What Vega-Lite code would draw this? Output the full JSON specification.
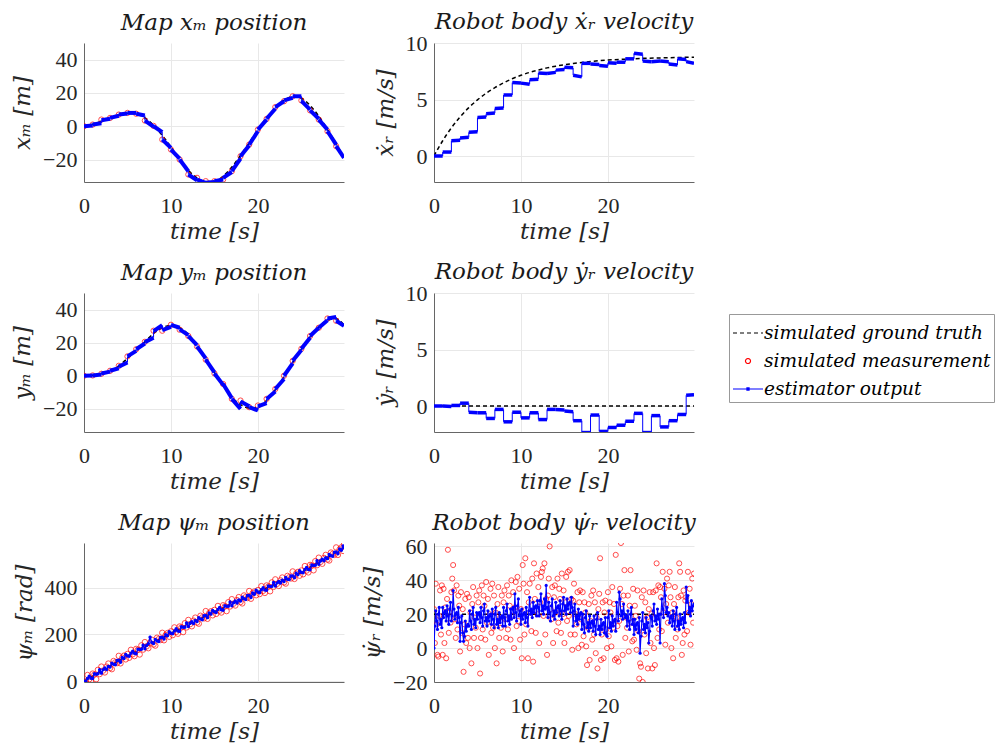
{
"$schema":"https://vega.github.io/schema/vega-lite/v6.json",
"background":"white",
"padding":{"left":11,"top":11,"right":5,"bottom":5},
"columns":2,
"spacing":{"row":111,"column":90},
"bounds":"flush",
"config":{
 "font":"DejaVu Serif",
 "view":{"stroke":null},
 "axis":{"labelFont":"Liberation Serif","labelFontSize":22,"labelColor":"#262626","titleFont":"DejaVu Serif","titleFontStyle":"italic","titleFontWeight":"normal","titleFontSize":23,"titleColor":"#262626","gridColor":"#e8e8e8","domainColor":"#666666","ticks":false,"labelFlush":false},
 "axisX":{"labelPadding":13,"titlePadding":4},
 "axisY":{"labelPadding":7,"titlePadding":8},
 "title":{"font":"DejaVu Serif","fontStyle":"italic","fontWeight":"normal","fontSize":23,"color":"#1a1a1a","offset":8}
},
"datasets":{
 "p1t":[{"t":0,"v":0},{"t":1,"v":1.2},{"t":2,"v":3},{"t":3,"v":5},{"t":4,"v":6.8},{"t":5,"v":7.8},{"t":6,"v":7.5},{"t":7,"v":5},{"t":8,"v":0.5},{"t":9,"v":-5.5},{"t":10,"v":-12.5},{"t":11,"v":-20},{"t":12,"v":-26.5},{"t":13,"v":-31},{"t":14,"v":-33.3},{"t":15,"v":-33},{"t":16,"v":-30},{"t":17,"v":-24.5},{"t":18,"v":-17.5},{"t":19,"v":-10},{"t":20,"v":-2},{"t":21,"v":5},{"t":22,"v":11},{"t":23,"v":15.5},{"t":24,"v":17.8},{"t":25,"v":16.8},{"t":26,"v":12.5},{"t":27,"v":6},{"t":28,"v":-2},{"t":29,"v":-10.5},{"t":29.9,"v":-19}],
 "p1m":[{"t":0,"v":0},{"t":1,"v":1},{"t":2,"v":4},{"t":3,"v":5},{"t":4,"v":7},{"t":5,"v":8},{"t":6,"v":7.5},{"t":7,"v":3.4},{"t":8,"v":0.2},{"t":9,"v":-8},{"t":10,"v":-14},{"t":11,"v":-20},{"t":12,"v":-29},{"t":13,"v":-31},{"t":14,"v":-33},{"t":15,"v":-33},{"t":16,"v":-32},{"t":17,"v":-27},{"t":18,"v":-18},{"t":19,"v":-11},{"t":20,"v":-2},{"t":21,"v":4.4},{"t":22,"v":11.5},{"t":23,"v":15},{"t":24,"v":18},{"t":25,"v":15.5},{"t":26,"v":9.5},{"t":27,"v":4},{"t":28,"v":-3},{"t":29,"v":-12}],
 "p1e":[{"t":0,"t1":1,"v":0,"v1":0.5,"p":0},{"t":1,"t1":2,"v":1,"v1":1.8,"p":0.5},{"t":2,"t1":3,"v":3.6,"v1":4.5,"p":1.8},{"t":3,"t1":4,"v":5,"v1":6.3,"p":4.5},{"t":4,"t1":5,"v":7,"v1":7.6,"p":6.3},{"t":5,"t1":6,"v":8,"v1":8,"p":7.6},{"t":6,"t1":7,"v":7.5,"v1":6.5,"p":8},{"t":7,"t1":8,"v":3.4,"v1":-0.3,"p":6.5},{"t":8,"t1":9,"v":0,"v1":-3.5,"p":-0.3},{"t":9,"t1":10,"v":-8,"v1":-13,"p":-3.5},{"t":10,"t1":11,"v":-14,"v1":-19.5,"p":-13},{"t":11,"t1":12,"v":-20,"v1":-27,"p":-19.5},{"t":12,"t1":13,"v":-29,"v1":-32.5,"p":-27},{"t":13,"t1":14,"v":-32,"v1":-34,"p":-32.5},{"t":14,"t1":15,"v":-34,"v1":-33.5,"p":-34},{"t":15,"t1":16,"v":-33,"v1":-32,"p":-33.5},{"t":16,"t1":17,"v":-31,"v1":-27.5,"p":-32},{"t":17,"t1":18,"v":-27,"v1":-19.5,"p":-27.5},{"t":18,"t1":19,"v":-18,"v1":-11.5,"p":-19.5},{"t":19,"t1":20,"v":-11,"v1":-3,"p":-11.5},{"t":20,"t1":21,"v":-2,"v1":4,"p":-3},{"t":21,"t1":22,"v":4.5,"v1":10.5,"p":4},{"t":22,"t1":23,"v":11.5,"v1":15,"p":10.5},{"t":23,"t1":24,"v":15.5,"v1":17,"p":15},{"t":24,"t1":25,"v":18,"v1":18,"p":17},{"t":25,"t1":26,"v":15.2,"v1":10,"p":18},{"t":26,"t1":27,"v":9.5,"v1":4.5,"p":10},{"t":27,"t1":28,"v":4,"v1":-2,"p":4.5},{"t":28,"t1":29,"v":-3,"v1":-11,"p":-2},{"t":29,"t1":29.9,"v":-12,"v1":-19,"p":-11}],
 "p2t":[{"t":0,"v":0},{"t":0.5,"v":0.7},{"t":1,"v":1.35},{"t":1.5,"v":1.95},{"t":2,"v":2.49},{"t":3,"v":3.46},{"t":4,"v":4.28},{"t":5,"v":4.97},{"t":6,"v":5.56},{"t":7,"v":6.05},{"t":8,"v":6.47},{"t":9,"v":6.84},{"t":10,"v":7.14},{"t":11,"v":7.4},{"t":12,"v":7.61},{"t":13,"v":7.8},{"t":14,"v":7.95},{"t":15,"v":8.08},{"t":16,"v":8.19},{"t":17,"v":8.28},{"t":18,"v":8.36},{"t":19,"v":8.43},{"t":20,"v":8.49},{"t":22,"v":8.57},{"t":24,"v":8.64},{"t":26,"v":8.68},{"t":28,"v":8.72},{"t":29.9,"v":8.74}],
 "p2e":[{"t":0,"t1":1,"v":0,"v1":0,"p":0},{"t":1,"t1":2,"v":0.35,"v1":0.35,"p":0},{"t":2,"t1":3,"v":1.35,"v1":1.4,"p":0.35},{"t":3,"t1":4,"v":1.6,"v1":1.65,"p":1.4},{"t":4,"t1":5,"v":2.1,"v1":2.15,"p":1.65},{"t":5,"t1":6,"v":3.4,"v1":3.45,"p":2.15},{"t":6,"t1":7,"v":3.75,"v1":3.8,"p":3.45},{"t":7,"t1":8,"v":4.2,"v1":4.25,"p":3.8},{"t":8,"t1":9,"v":5.4,"v1":5.4,"p":4.25},{"t":9,"t1":10,"v":6.5,"v1":6.45,"p":5.4},{"t":10,"t1":11,"v":6.45,"v1":6.35,"p":6.45},{"t":11,"t1":12,"v":6.75,"v1":6.8,"p":6.35},{"t":12,"t1":13,"v":7.35,"v1":7.3,"p":6.8},{"t":13,"t1":14,"v":7.3,"v1":7.4,"p":7.3},{"t":14,"t1":15,"v":7.6,"v1":7.65,"p":7.4},{"t":15,"t1":16,"v":7.85,"v1":7.8,"p":7.65},{"t":16,"t1":17,"v":7.15,"v1":7.0,"p":7.8},{"t":17,"t1":18,"v":8.2,"v1":8.2,"p":7.0},{"t":18,"t1":19,"v":8.15,"v1":8.1,"p":8.2},{"t":19,"t1":20,"v":8.0,"v1":7.95,"p":8.1},{"t":20,"t1":21,"v":8.25,"v1":8.2,"p":7.95},{"t":21,"t1":22,"v":8.3,"v1":8.3,"p":8.2},{"t":22,"t1":23,"v":8.6,"v1":8.6,"p":8.3},{"t":23,"t1":24,"v":9.1,"v1":9.0,"p":8.6},{"t":24,"t1":25,"v":8.4,"v1":8.35,"p":9.0},{"t":25,"t1":26,"v":8.35,"v1":8.4,"p":8.35},{"t":26,"t1":27,"v":8.4,"v1":8.35,"p":8.4},{"t":27,"t1":28,"v":8.15,"v1":8.05,"p":8.35},{"t":28,"t1":29,"v":8.6,"v1":8.55,"p":8.05},{"t":29,"t1":29.9,"v":8.35,"v1":8.2,"p":8.55}],
 "p3t":[{"t":0,"v":0},{"t":1,"v":0.3},{"t":2,"v":1.3},{"t":3,"v":3},{"t":4,"v":6},{"t":5,"v":10.5},{"t":6,"v":15.5},{"t":7,"v":20.5},{"t":8,"v":25.5},{"t":9,"v":29},{"t":10,"v":30.5},{"t":11,"v":29},{"t":12,"v":25},{"t":13,"v":18.5},{"t":14,"v":10.5},{"t":15,"v":2},{"t":16,"v":-6},{"t":17,"v":-13},{"t":18,"v":-17.5},{"t":19,"v":-19.5},{"t":20,"v":-19},{"t":21,"v":-15},{"t":22,"v":-8.5},{"t":23,"v":-0.5},{"t":24,"v":8},{"t":25,"v":16},{"t":26,"v":23.5},{"t":27,"v":29.5},{"t":28,"v":33.5},{"t":29,"v":34.5},{"t":29.9,"v":30.5}],
 "p3m":[{"t":0,"v":0},{"t":1,"v":0.2},{"t":2,"v":1.2},{"t":3,"v":3},{"t":4,"v":6},{"t":5,"v":11.7},{"t":6,"v":16},{"t":7,"v":20.5},{"t":8,"v":27.2},{"t":9,"v":27.2},{"t":10,"v":30.8},{"t":11,"v":27.8},{"t":12,"v":24},{"t":13,"v":17.7},{"t":14,"v":9.7},{"t":15,"v":1.4},{"t":16,"v":-5},{"t":17,"v":-14},{"t":18,"v":-15},{"t":19,"v":-19},{"t":20,"v":-18},{"t":21,"v":-14},{"t":22,"v":-8},{"t":23,"v":0},{"t":24,"v":9},{"t":25,"v":16.3},{"t":26,"v":24},{"t":27,"v":29},{"t":28,"v":34.6},{"t":29,"v":33.2}],
 "p3e":[{"t":0,"t1":1,"v":0,"v1":0.2,"p":0},{"t":1,"t1":2,"v":0.2,"v1":0.8,"p":0.2},{"t":2,"t1":3,"v":1.4,"v1":2.5,"p":0.8},{"t":3,"t1":4,"v":3,"v1":4.5,"p":2.5},{"t":4,"t1":5,"v":5.5,"v1":8,"p":4.5},{"t":5,"t1":6,"v":11.7,"v1":15,"p":8},{"t":6,"t1":7,"v":16,"v1":19.5,"p":15},{"t":7,"t1":8,"v":20.3,"v1":23,"p":19.5},{"t":8,"t1":9,"v":27,"v1":30.5,"p":23},{"t":9,"t1":10,"v":27.5,"v1":29.5,"p":30.5},{"t":10,"t1":11,"v":30.8,"v1":29,"p":29.5},{"t":11,"t1":12,"v":28,"v1":24.5,"p":29},{"t":12,"t1":13,"v":24,"v1":18.5,"p":24.5},{"t":13,"t1":14,"v":17.7,"v1":10.5,"p":18.5},{"t":14,"t1":15,"v":9.7,"v1":2,"p":10.5},{"t":15,"t1":16,"v":1.4,"v1":-5.5,"p":2},{"t":16,"t1":17,"v":-5,"v1":-13.5,"p":-5.5},{"t":17,"t1":18,"v":-14,"v1":-20,"p":-13.5},{"t":18,"t1":19,"v":-15.5,"v1":-18.5,"p":-20},{"t":19,"t1":20,"v":-19,"v1":-21,"p":-18.5},{"t":20,"t1":21,"v":-18.5,"v1":-16.5,"p":-21},{"t":21,"t1":22,"v":-14,"v1":-9.5,"p":-16.5},{"t":22,"t1":23,"v":-8,"v1":-2,"p":-9.5},{"t":23,"t1":24,"v":0,"v1":7.5,"p":-2},{"t":24,"t1":25,"v":9,"v1":15.5,"p":7.5},{"t":25,"t1":26,"v":16.3,"v1":23,"p":15.5},{"t":26,"t1":27,"v":24,"v1":29,"p":23},{"t":27,"t1":28,"v":29,"v1":33.5,"p":29},{"t":28,"t1":29,"v":34.6,"v1":35.5,"p":33.5},{"t":29,"t1":29.9,"v":33.2,"v1":30.2,"p":35.5}],
 "p4t":[{"t":0,"v":0},{"t":29.9,"v":0}],
 "p4e":[{"t":0,"t1":1,"v":0,"v1":0,"p":0},{"t":1,"t1":2,"v":0,"v1":-0.05,"p":0},{"t":2,"t1":3,"v":0.05,"v1":0.05,"p":-0.05},{"t":3,"t1":4,"v":0.25,"v1":0.25,"p":0.05},{"t":4,"t1":5,"v":-0.55,"v1":-0.6,"p":0.25},{"t":5,"t1":6,"v":-0.6,"v1":-0.6,"p":-0.6},{"t":6,"t1":7,"v":-1.1,"v1":-1.1,"p":-0.6},{"t":7,"t1":8,"v":-0.3,"v1":-0.3,"p":-1.1},{"t":8,"t1":9,"v":-1.4,"v1":-1.4,"p":-0.3},{"t":9,"t1":10,"v":-0.55,"v1":-0.55,"p":-1.4},{"t":10,"t1":11,"v":-1.05,"v1":-1.05,"p":-0.55},{"t":11,"t1":12,"v":-0.6,"v1":-0.6,"p":-1.05},{"t":12,"t1":13,"v":-1.2,"v1":-1.2,"p":-0.6},{"t":13,"t1":14,"v":-0.3,"v1":-0.3,"p":-1.2},{"t":14,"t1":15,"v":-0.3,"v1":-0.35,"p":-0.3},{"t":15,"t1":16,"v":-0.45,"v1":-0.5,"p":-0.35},{"t":16,"t1":17,"v":-1.3,"v1":-1.3,"p":-0.5},{"t":17,"t1":18,"v":-2.35,"v1":-2.35,"p":-1.3},{"t":18,"t1":19,"v":-0.8,"v1":-0.8,"p":-2.35},{"t":19,"t1":20,"v":-2.25,"v1":-2.25,"p":-0.8},{"t":20,"t1":21,"v":-1.9,"v1":-1.9,"p":-2.25},{"t":21,"t1":22,"v":-1.7,"v1":-1.7,"p":-1.9},{"t":22,"t1":23,"v":-1.35,"v1":-1.35,"p":-1.7},{"t":23,"t1":24,"v":-0.65,"v1":-0.65,"p":-1.35},{"t":24,"t1":25,"v":-2.35,"v1":-2.35,"p":-0.65},{"t":25,"t1":26,"v":-0.85,"v1":-0.85,"p":-2.35},{"t":26,"t1":27,"v":-1.85,"v1":-1.85,"p":-0.85},{"t":27,"t1":28,"v":-1.3,"v1":-1.3,"p":-1.85},{"t":28,"t1":29,"v":-0.75,"v1":-0.75,"p":-1.3},{"t":29,"t1":29.9,"v":0.95,"v1":1.0,"p":-0.75}],
 "p5t":[{"t":0,"v":0},{"t":2,"v":42},{"t":4,"v":87},{"t":5,"v":108},{"t":10,"v":205},{"t":15,"v":297},{"t":20,"v":382},{"t":25,"v":466},{"t":29.9,"v":571}],
 "p5":[{"t":0,"m":0,"e":0},{"t":0.2,"m":-7,"e":-2},{"t":0.4,"m":26,"e":11},{"t":0.6,"m":8,"e":21},{"t":0.8,"m":0,"e":12},{"t":1,"m":32,"e":11},{"t":1.2,"m":28,"e":31},{"t":1.4,"m":8,"e":29},{"t":1.6,"m":48,"e":31},{"t":1.8,"m":30,"e":49},{"t":2,"m":62,"e":34},{"t":2.2,"m":45,"e":49},{"t":2.4,"m":37,"e":56},{"t":2.6,"m":62,"e":50},{"t":2.8,"m":75,"e":63},{"t":3,"m":56,"e":60},{"t":3.2,"m":51,"e":77},{"t":3.4,"m":86,"e":72},{"t":3.6,"m":80,"e":70},{"t":3.8,"m":77,"e":88},{"t":4,"m":108,"e":89},{"t":4.2,"m":76,"e":81},{"t":4.4,"m":100,"e":101},{"t":4.6,"m":109,"e":97},{"t":4.8,"m":93,"e":114},{"t":5,"m":116,"e":108},{"t":5.2,"m":100,"e":106},{"t":5.4,"m":134,"e":119},{"t":5.6,"m":115,"e":128},{"t":5.8,"m":107,"e":119},{"t":6,"m":138,"e":117},{"t":6.2,"m":134,"e":137},{"t":6.4,"m":114,"e":135},{"t":6.6,"m":153,"e":136},{"t":6.8,"m":135,"e":154},{"t":7,"m":167,"e":139},{"t":7.2,"m":149,"e":153},{"t":7.4,"m":141,"e":160},{"t":7.6,"m":164,"e":188},{"t":7.8,"m":177,"e":165},{"t":8,"m":157,"e":161},{"t":8.2,"m":152,"e":178},{"t":8.4,"m":186,"e":172},{"t":8.6,"m":180,"e":170},{"t":8.8,"m":176,"e":187},{"t":9,"m":207,"e":188},{"t":9.2,"m":175,"e":180},{"t":9.4,"m":198,"e":199},{"t":9.6,"m":206,"e":194},{"t":9.8,"m":190,"e":211},{"t":10,"m":213,"e":205},{"t":10.2,"m":197,"e":203},{"t":10.4,"m":230,"e":215},{"t":10.6,"m":211,"e":224},{"t":10.8,"m":203,"e":215},{"t":11,"m":234,"e":213},{"t":11.2,"m":230,"e":233},{"t":11.4,"m":210,"e":231},{"t":11.6,"m":248,"e":231},{"t":11.8,"m":230,"e":249},{"t":12,"m":262,"e":234},{"t":12.2,"m":244,"e":248},{"t":12.4,"m":235,"e":254},{"t":12.6,"m":259,"e":247},{"t":12.8,"m":272,"e":260},{"t":13,"m":251,"e":255},{"t":13.2,"m":246,"e":272},{"t":13.4,"m":280,"e":266},{"t":13.6,"m":273,"e":263},{"t":13.8,"m":269,"e":280},{"t":14,"m":300,"e":281},{"t":14.2,"m":267,"e":272},{"t":14.4,"m":291,"e":292},{"t":14.6,"m":299,"e":287},{"t":14.8,"m":282,"e":303},{"t":15,"m":305,"e":297},{"t":15.2,"m":288,"e":294},{"t":15.4,"m":322,"e":307},{"t":15.6,"m":302,"e":315},{"t":15.8,"m":294,"e":306},{"t":16,"m":325,"e":304},{"t":16.2,"m":320,"e":323},{"t":16.4,"m":300,"e":321},{"t":16.6,"m":338,"e":321},{"t":16.8,"m":320,"e":339},{"t":17,"m":351,"e":323},{"t":17.2,"m":332,"e":336},{"t":17.4,"m":324,"e":343},{"t":17.6,"m":347,"e":335},{"t":17.8,"m":360,"e":348},{"t":18,"m":339,"e":343},{"t":18.2,"m":333,"e":359},{"t":18.4,"m":367,"e":353},{"t":18.6,"m":360,"e":350},{"t":18.8,"m":356,"e":367},{"t":19,"m":386,"e":367},{"t":19.2,"m":353,"e":358},{"t":19.4,"m":377,"e":378},{"t":19.6,"m":384,"e":372},{"t":19.8,"m":368,"e":389},{"t":20,"m":390,"e":382},{"t":20.2,"m":373,"e":379},{"t":20.4,"m":407,"e":392},{"t":20.6,"m":387,"e":400},{"t":20.8,"m":378,"e":390},{"t":21,"m":410,"e":389},{"t":21.2,"m":405,"e":408},{"t":21.4,"m":385,"e":406},{"t":21.6,"m":423,"e":406},{"t":21.8,"m":404,"e":423},{"t":22,"m":436,"e":408},{"t":22.2,"m":417,"e":421},{"t":22.4,"m":408,"e":427},{"t":22.6,"m":432,"e":420},{"t":22.8,"m":444,"e":432},{"t":23,"m":423,"e":427},{"t":23.2,"m":418,"e":444},{"t":23.4,"m":451,"e":437},{"t":23.6,"m":445,"e":435},{"t":23.8,"m":440,"e":451},{"t":24,"m":470,"e":451},{"t":24.2,"m":438,"e":443},{"t":24.4,"m":461,"e":462},{"t":24.6,"m":468,"e":456},{"t":24.8,"m":452,"e":473},{"t":25,"m":474,"e":466},{"t":25.2,"m":458,"e":464},{"t":25.4,"m":493,"e":478},{"t":25.6,"m":474,"e":487},{"t":25.8,"m":466,"e":478},{"t":26,"m":498,"e":477},{"t":26.2,"m":495,"e":498},{"t":26.4,"m":475,"e":496},{"t":26.6,"m":514,"e":497},{"t":26.8,"m":497,"e":516},{"t":27,"m":529,"e":501},{"t":27.2,"m":511,"e":515},{"t":27.4,"m":503,"e":522},{"t":27.6,"m":528,"e":516},{"t":27.8,"m":541,"e":529},{"t":28,"m":521,"e":525},{"t":28.2,"m":517,"e":543},{"t":28.4,"m":551,"e":537},{"t":28.6,"m":545,"e":535},{"t":28.8,"m":541,"e":552},{"t":29,"m":573,"e":554},{"t":29.2,"m":541,"e":546},{"t":29.4,"m":565,"e":566},{"t":29.6,"m":573,"e":561},{"t":29.8,"m":558,"e":579},{"t":29.9,"m":586,"e":572}],
 "p6t":[{"t":0,"v":20},{"t":29.9,"v":20}],
 "p6":[{"t":0,"m":23,"e":0},{"t":0.1,"m":3,"e":13},{"t":0.2,"m":38,"e":22},{"t":0.3,"m":14,"e":16},{"t":0.4,"m":-4,"e":11},{"t":0.5,"m":-5,"e":20},{"t":0.6,"m":19,"e":24},{"t":0.7,"m":34,"e":14},{"t":0.8,"m":8,"e":17},{"t":0.9,"m":37,"e":12},{"t":1,"m":-4,"e":24},{"t":1.1,"m":35,"e":18},{"t":1.2,"m":3,"e":21},{"t":1.3,"m":24,"e":22},{"t":1.4,"m":-6,"e":16},{"t":1.5,"m":29,"e":25},{"t":1.6,"m":58,"e":19},{"t":1.7,"m":9,"e":14},{"t":1.8,"m":21,"e":23},{"t":1.9,"m":15,"e":27},{"t":2,"m":33,"e":16},{"t":2.1,"m":41,"e":19},{"t":2.2,"m":49,"e":34},{"t":2.3,"m":34,"e":23},{"t":2.4,"m":17,"e":17},{"t":2.5,"m":6,"e":20},{"t":2.6,"m":37,"e":21},{"t":2.7,"m":11,"e":15},{"t":2.8,"m":31,"e":24},{"t":2.9,"m":25,"e":18},{"t":3,"m":-2,"e":4},{"t":3.1,"m":33,"e":15},{"t":3.2,"m":9,"e":19},{"t":3.3,"m":23,"e":9},{"t":3.4,"m":-14,"e":4},{"t":3.5,"m":14,"e":7},{"t":3.6,"m":29,"e":16},{"t":3.7,"m":3,"e":10},{"t":3.8,"m":32,"e":13},{"t":3.9,"m":6,"e":14},{"t":4,"m":30,"e":13},{"t":4.1,"m":0,"e":22},{"t":4.2,"m":21,"e":16},{"t":4.3,"m":-9,"e":11},{"t":4.4,"m":26,"e":20},{"t":4.5,"m":36,"e":24},{"t":4.6,"m":6,"e":14},{"t":4.7,"m":18,"e":17},{"t":4.8,"m":12,"e":12},{"t":4.9,"m":31,"e":21},{"t":5,"m":0,"e":17},{"t":5.1,"m":27,"e":20},{"t":5.2,"m":34,"e":21},{"t":5.3,"m":-15,"e":15},{"t":5.4,"m":6,"e":24},{"t":5.5,"m":37,"e":18},{"t":5.6,"m":11,"e":13},{"t":5.7,"m":31,"e":22},{"t":5.8,"m":25,"e":26},{"t":5.9,"m":5,"e":16},{"t":6,"m":39,"e":18},{"t":6.1,"m":15,"e":13},{"t":6.2,"m":29,"e":22},{"t":6.3,"m":-4,"e":16},{"t":6.4,"m":20,"e":19},{"t":6.5,"m":35,"e":20},{"t":6.6,"m":9,"e":14},{"t":6.7,"m":38,"e":23},{"t":6.8,"m":12,"e":17},{"t":6.9,"m":31,"e":12},{"t":7,"m":0,"e":20},{"t":7.1,"m":21,"e":24},{"t":7.2,"m":-9,"e":14},{"t":7.3,"m":26,"e":17},{"t":7.4,"m":36,"e":12},{"t":7.5,"m":6,"e":21},{"t":7.6,"m":18,"e":15},{"t":7.7,"m":12,"e":18},{"t":7.8,"m":31,"e":19},{"t":7.9,"m":-2,"e":13},{"t":8,"m":27,"e":24},{"t":8.1,"m":34,"e":18},{"t":8.2,"m":17,"e":13},{"t":8.3,"m":6,"e":22},{"t":8.4,"m":37,"e":26},{"t":8.5,"m":11,"e":16},{"t":8.6,"m":31,"e":19},{"t":8.7,"m":25,"e":14},{"t":8.8,"m":5,"e":23},{"t":8.9,"m":40,"e":17},{"t":9,"m":19,"e":23},{"t":9.1,"m":33,"e":24},{"t":9.2,"m":0,"e":18},{"t":9.3,"m":24,"e":32},{"t":9.4,"m":39,"e":21},{"t":9.5,"m":13,"e":16},{"t":9.6,"m":42,"e":25},{"t":9.7,"m":16,"e":29},{"t":9.8,"m":35,"e":19},{"t":9.9,"m":5,"e":22},{"t":10,"m":23,"e":14},{"t":10.1,"m":-6,"e":23},{"t":10.2,"m":49,"e":17},{"t":10.3,"m":38,"e":20},{"t":10.4,"m":8,"e":21},{"t":10.5,"m":53,"e":15},{"t":10.6,"m":14,"e":24},{"t":10.7,"m":33,"e":18},{"t":10.8,"m":-6,"e":13},{"t":10.9,"m":27,"e":22},{"t":11,"m":38,"e":30},{"t":11.1,"m":21,"e":20},{"t":11.2,"m":10,"e":23},{"t":11.3,"m":41,"e":18},{"t":11.4,"m":-8,"e":27},{"t":11.5,"m":50,"e":21},{"t":11.6,"m":29,"e":24},{"t":11.7,"m":9,"e":25},{"t":11.8,"m":44,"e":19},{"t":11.9,"m":20,"e":28},{"t":12,"m":36,"e":24},{"t":12.1,"m":3,"e":19},{"t":12.2,"m":27,"e":28},{"t":12.3,"m":42,"e":32},{"t":12.4,"m":45,"e":22},{"t":12.5,"m":47,"e":25},{"t":12.6,"m":19,"e":20},{"t":12.7,"m":50,"e":29},{"t":12.8,"m":8,"e":23},{"t":12.9,"m":29,"e":37},{"t":13,"m":-4,"e":24},{"t":13.1,"m":31,"e":18},{"t":13.2,"m":41,"e":27},{"t":13.3,"m":60,"e":21},{"t":13.4,"m":23,"e":16},{"t":13.5,"m":17,"e":25},{"t":13.6,"m":36,"e":29},{"t":13.7,"m":3,"e":19},{"t":13.8,"m":30,"e":22},{"t":13.9,"m":37,"e":17},{"t":14,"m":21,"e":27},{"t":14.1,"m":10,"e":21},{"t":14.2,"m":41,"e":24},{"t":14.3,"m":15,"e":25},{"t":14.4,"m":35,"e":19},{"t":14.5,"m":29,"e":28},{"t":14.6,"m":9,"e":22},{"t":14.7,"m":44,"e":17},{"t":14.8,"m":20,"e":26},{"t":14.9,"m":34,"e":30},{"t":15,"m":3,"e":22},{"t":15.1,"m":27,"e":25},{"t":15.2,"m":42,"e":20},{"t":15.3,"m":16,"e":29},{"t":15.4,"m":45,"e":23},{"t":15.5,"m":19,"e":26},{"t":15.6,"m":46,"e":27},{"t":15.7,"m":8,"e":21},{"t":15.8,"m":29,"e":30},{"t":15.9,"m":-1,"e":24},{"t":16,"m":28,"e":13},{"t":16.1,"m":38,"e":22},{"t":16.2,"m":8,"e":26},{"t":16.3,"m":20,"e":16},{"t":16.4,"m":14,"e":19},{"t":16.5,"m":33,"e":14},{"t":16.6,"m":0,"e":23},{"t":16.7,"m":27,"e":17},{"t":16.8,"m":34,"e":20},{"t":16.9,"m":17,"e":21},{"t":17,"m":2,"e":11},{"t":17.1,"m":33,"e":20},{"t":17.2,"m":7,"e":14},{"t":17.3,"m":27,"e":9},{"t":17.4,"m":21,"e":18},{"t":17.5,"m":1,"e":22},{"t":17.6,"m":-10,"e":12},{"t":17.7,"m":12,"e":15},{"t":17.8,"m":26,"e":10},{"t":17.9,"m":-7,"e":19},{"t":18,"m":16,"e":12},{"t":18.1,"m":31,"e":15},{"t":18.2,"m":5,"e":16},{"t":18.3,"m":34,"e":10},{"t":18.4,"m":8,"e":19},{"t":18.5,"m":27,"e":13},{"t":18.6,"m":-3,"e":8},{"t":18.7,"m":18,"e":17},{"t":18.8,"m":-12,"e":21},{"t":18.9,"m":23,"e":11},{"t":19,"m":32,"e":13},{"t":19.1,"m":53,"e":8},{"t":19.2,"m":-7,"e":17},{"t":19.3,"m":8,"e":11},{"t":19.4,"m":27,"e":14},{"t":19.5,"m":-6,"e":15},{"t":19.6,"m":21,"e":9},{"t":19.7,"m":28,"e":18},{"t":19.8,"m":11,"e":8},{"t":19.9,"m":0,"e":7},{"t":20,"m":33,"e":18},{"t":20.1,"m":7,"e":22},{"t":20.2,"m":27,"e":12},{"t":20.3,"m":21,"e":15},{"t":20.4,"m":1,"e":10},{"t":20.5,"m":36,"e":19},{"t":20.6,"m":12,"e":13},{"t":20.7,"m":26,"e":16},{"t":20.8,"m":-7,"e":17},{"t":20.9,"m":55,"e":10},{"t":21,"m":-6,"e":27},{"t":21.1,"m":13,"e":21},{"t":21.2,"m":-8,"e":16},{"t":21.3,"m":16,"e":33},{"t":21.4,"m":35,"e":29},{"t":21.5,"m":62,"e":19},{"t":21.6,"m":26,"e":22},{"t":21.7,"m":-4,"e":17},{"t":21.8,"m":31,"e":26},{"t":21.9,"m":46,"e":20},{"t":22,"m":6,"e":18},{"t":22.1,"m":18,"e":19},{"t":22.2,"m":12,"e":13},{"t":22.3,"m":31,"e":22},{"t":22.4,"m":-2,"e":16},{"t":22.5,"m":25,"e":11},{"t":22.6,"m":46,"e":20},{"t":22.7,"m":15,"e":24},{"t":22.8,"m":4,"e":14},{"t":22.9,"m":35,"e":17},{"t":23,"m":5,"e":8},{"t":23.1,"m":25,"e":17},{"t":23.2,"m":19,"e":11},{"t":23.3,"m":-1,"e":14},{"t":23.4,"m":34,"e":15},{"t":23.5,"m":10,"e":9},{"t":23.6,"m":-18,"e":18},{"t":23.7,"m":-9,"e":-3},{"t":23.8,"m":-11,"e":7},{"t":23.9,"m":30,"e":16},{"t":24,"m":-20,"e":21},{"t":24.1,"m":34,"e":11},{"t":24.2,"m":8,"e":14},{"t":24.3,"m":27,"e":9},{"t":24.4,"m":-3,"e":18},{"t":24.5,"m":18,"e":12},{"t":24.6,"m":-12,"e":15},{"t":24.7,"m":23,"e":3},{"t":24.8,"m":33,"e":10},{"t":24.9,"m":3,"e":19},{"t":25,"m":20,"e":18},{"t":25.1,"m":-12,"e":13},{"t":25.2,"m":33,"e":22},{"t":25.3,"m":0,"e":26},{"t":25.4,"m":-10,"e":16},{"t":25.5,"m":34,"e":19},{"t":25.6,"m":50,"e":14},{"t":25.7,"m":6,"e":23},{"t":25.8,"m":37,"e":17},{"t":25.9,"m":11,"e":20},{"t":26,"m":36,"e":3},{"t":26.1,"m":30,"e":20},{"t":26.2,"m":10,"e":29},{"t":26.3,"m":45,"e":23},{"t":26.4,"m":21,"e":18},{"t":26.5,"m":35,"e":38},{"t":26.6,"m":2,"e":31},{"t":26.7,"m":26,"e":21},{"t":26.8,"m":41,"e":24},{"t":26.9,"m":15,"e":19},{"t":27,"m":37,"e":21},{"t":27.1,"m":45,"e":15},{"t":27.2,"m":30,"e":18},{"t":27.3,"m":0,"e":19},{"t":27.4,"m":21,"e":13},{"t":27.5,"m":-6,"e":22},{"t":27.6,"m":26,"e":16},{"t":27.7,"m":36,"e":11},{"t":27.8,"m":6,"e":20},{"t":27.9,"m":18,"e":24},{"t":28,"m":11,"e":13},{"t":28.1,"m":30,"e":16},{"t":28.2,"m":50,"e":11},{"t":28.3,"m":45,"e":20},{"t":28.4,"m":31,"e":14},{"t":28.5,"m":-4,"e":17},{"t":28.6,"m":3,"e":18},{"t":28.7,"m":34,"e":12},{"t":28.8,"m":8,"e":21},{"t":28.9,"m":28,"e":15},{"t":29,"m":30,"e":36},{"t":29.1,"m":10,"e":27},{"t":29.2,"m":45,"e":31},{"t":29.3,"m":21,"e":21},{"t":29.4,"m":35,"e":24},{"t":29.5,"m":2,"e":19},{"t":29.6,"m":26,"e":28},{"t":29.7,"m":41,"e":22},{"t":29.8,"m":15,"e":25},{"t":29.9,"m":44,"e":26}]
},
"concat":[
 {"width":260,"height":139,"title":{"text":"Map xₘ position"},
  "encoding":{"x":{"field":"t","type":"quantitative","scale":{"domain":[0,29.9],"nice":false,"zero":false},"axis":{"title":"time [s]","values":[0,10,20]}},
   "y":{"field":"v","type":"quantitative","scale":{"domain":[-33.5,50],"nice":false,"zero":false},"axis":{"title":"xₘ [m]","values":[-20,0,20,40]}}},
  "layer":[
   {"data":{"name":"p1t"},"mark":{"type":"line","color":"black","strokeDash":[4,3],"strokeWidth":1.5,"interpolate":"monotone","clip":true}},
   {"data":{"name":"p1m"},"mark":{"type":"point","shape":"circle","filled":false,"color":"#ff0000","size":28,"strokeWidth":1,"clip":true}},
   {"data":{"name":"p1e"},"mark":{"type":"rule","color":"#0000ff","strokeWidth":1,"clip":true},"encoding":{"y2":{"field":"p"}}},
   {"data":{"name":"p1e"},"mark":{"type":"rule","color":"#0000ff","strokeWidth":4,"clip":true},"encoding":{"x2":{"field":"t1"},"y2":{"field":"v1"}}}
  ]},
 {"width":260,"height":139,"title":{"text":"Robot body ẋᵣ velocity","offset":-2},
  "encoding":{"x":{"field":"t","type":"quantitative","scale":{"domain":[0,29.9],"nice":false,"zero":false},"axis":{"title":"time [s]","values":[0,10,20]}},
   "y":{"field":"v","type":"quantitative","scale":{"domain":[-2.3,10],"nice":false,"zero":false},"axis":{"title":"ẋᵣ [m/s]","values":[0,5,10]}}},
  "layer":[
   {"data":{"name":"p2t"},"mark":{"type":"line","color":"black","strokeDash":[4,3],"strokeWidth":1.5,"interpolate":"monotone","clip":true}},
   {"data":{"name":"p2e"},"mark":{"type":"rule","color":"#0000ff","strokeWidth":1,"clip":true},"encoding":{"y2":{"field":"p"}}},
   {"data":{"name":"p2e"},"mark":{"type":"rule","color":"#0000ff","strokeWidth":3.5,"clip":true},"encoding":{"x2":{"field":"t1"},"y2":{"field":"v1"}}}
  ]},
 {"width":260,"height":139,"title":{"text":"Map yₘ position"},
  "encoding":{"x":{"field":"t","type":"quantitative","scale":{"domain":[0,29.9],"nice":false,"zero":false},"axis":{"title":"time [s]","values":[0,10,20]}},
   "y":{"field":"v","type":"quantitative","scale":{"domain":[-34,50],"nice":false,"zero":false},"axis":{"title":"yₘ [m]","values":[-20,0,20,40]}}},
  "layer":[
   {"data":{"name":"p3t"},"mark":{"type":"line","color":"black","strokeDash":[4,3],"strokeWidth":1.5,"interpolate":"monotone","clip":true}},
   {"data":{"name":"p3m"},"mark":{"type":"point","shape":"circle","filled":false,"color":"#ff0000","size":28,"strokeWidth":1,"clip":true}},
   {"data":{"name":"p3e"},"mark":{"type":"rule","color":"#0000ff","strokeWidth":1,"clip":true},"encoding":{"y2":{"field":"p"}}},
   {"data":{"name":"p3e"},"mark":{"type":"rule","color":"#0000ff","strokeWidth":4,"clip":true},"encoding":{"x2":{"field":"t1"},"y2":{"field":"v1"}}}
  ]},
 {"width":260,"height":139,"title":{"text":"Robot body ẏᵣ velocity","offset":-2},
  "encoding":{"x":{"field":"t","type":"quantitative","scale":{"domain":[0,29.9],"nice":false,"zero":false},"axis":{"title":"time [s]","values":[0,10,20]}},
   "y":{"field":"v","type":"quantitative","scale":{"domain":[-2.3,10],"nice":false,"zero":false},"axis":{"title":"ẏᵣ [m/s]","values":[0,5,10]}}},
  "layer":[
   {"data":{"name":"p4t"},"mark":{"type":"line","strokeDash":[4,3],"strokeWidth":1.5,"clip":true},
    "encoding":{"color":{"datum":"simulated ground truth","type":"nominal","scale":{"domain":["simulated ground truth","simulated measurement","estimator output"],"range":["#000000","#ff0000","#0000ff"]},
     "legend":{"orient":"none","legendX":645,"legendY":271,"title":null,"labelFont":"DejaVu Serif","labelFontStyle":"italic","labelFontSize":18.5,"labelColor":"#000000","labelLimit":400,"strokeColor":"#999999","fillColor":"white","padding":3,"rowPadding":2,"labelOffset":0,"symbolType":"stroke","symbolSize":900,"symbolStrokeWidth":1.2,
      "encode":{"symbols":{"update":{
        "shape":{"signal":"datum.value === 'simulated measurement' ? 'circle' : (datum.value === 'estimator output' ? 'M-1,0L1,0M-0.07,-0.07L0.07,-0.07L0.07,0.07L-0.07,0.07Z' : 'stroke')"},
        "size":{"signal":"datum.value === 'simulated measurement' ? 25 : 900"},
        "strokeDash":{"signal":"datum.value === 'simulated ground truth' ? [4,3] : [1,0]"},
        "fill":{"signal":"datum.value === 'estimator output' ? '#0000ff' : 'transparent'"},
        "stroke":{"signal":"datum.value === 'simulated ground truth' ? '#000000' : (datum.value === 'simulated measurement' ? '#ff0000' : '#0000ff')"}
      }}}}}}},
   {"data":{"name":"p4e"},"mark":{"type":"rule","color":"#0000ff","strokeWidth":1,"clip":true},"encoding":{"y2":{"field":"p"}}},
   {"data":{"name":"p4e"},"mark":{"type":"rule","color":"#0000ff","strokeWidth":3.5,"clip":true},"encoding":{"x2":{"field":"t1"},"y2":{"field":"v1"}}}
  ]},
 {"width":260,"height":139,"title":{"text":"Map ψₘ position"},
  "encoding":{"x":{"field":"t","type":"quantitative","scale":{"domain":[0,29.9],"nice":false,"zero":false},"axis":{"title":"time [s]","values":[0,10,20]}},
   "y":{"field":"v","type":"quantitative","scale":{"domain":[-4,592],"nice":false,"zero":false},"axis":{"title":"ψₘ [rad]","values":[0,200,400]}}},
  "layer":[
   {"data":{"name":"p5t"},"mark":{"type":"line","color":"black","strokeDash":[4,3],"strokeWidth":1.5,"clip":true}},
   {"data":{"name":"p5"},"transform":[{"fold":["m"],"as":["s","v"]}],"mark":{"type":"point","shape":"circle","filled":false,"color":"#ff0000","size":30,"strokeWidth":1,"clip":true}},
   {"data":{"name":"p5"},"transform":[{"fold":["e"],"as":["s","v"]}],"mark":{"type":"line","color":"#0000ff","strokeWidth":1.3,"clip":true}},
   {"data":{"name":"p5"},"transform":[{"fold":["e"],"as":["s","v"]}],"mark":{"type":"point","shape":"circle","filled":true,"opacity":1,"color":"#0000ff","size":12,"clip":true}}
  ]},
 {"width":260,"height":139,"title":{"text":"Robot body ψ̇ᵣ velocity","offset":0},
  "encoding":{"x":{"field":"t","type":"quantitative","scale":{"domain":[0,29.9],"nice":false,"zero":false},"axis":{"title":"time [s]","values":[0,10,20]}},
   "y":{"field":"v","type":"quantitative","scale":{"domain":[-20,62],"nice":false,"zero":false},"axis":{"title":"ψ̇ᵣ [m/s]","values":[-20,0,20,40,60]}}},
  "layer":[
   {"data":{"name":"p6t"},"mark":{"type":"line","color":"black","strokeDash":[4,3],"strokeWidth":1.5,"clip":true}},
   {"data":{"name":"p6"},"transform":[{"fold":["m"],"as":["s","v"]}],"mark":{"type":"point","shape":"circle","filled":false,"color":"#ff0000","size":26,"strokeWidth":1,"clip":true}},
   {"data":{"name":"p6"},"transform":[{"fold":["e"],"as":["s","v"]}],"mark":{"type":"line","color":"#0000ff","strokeWidth":1.1,"clip":true}},
   {"data":{"name":"p6"},"transform":[{"fold":["e"],"as":["s","v"]}],"mark":{"type":"point","shape":"circle","filled":true,"opacity":1,"color":"#0000ff","size":10,"clip":true}}
  ]}
]
}
